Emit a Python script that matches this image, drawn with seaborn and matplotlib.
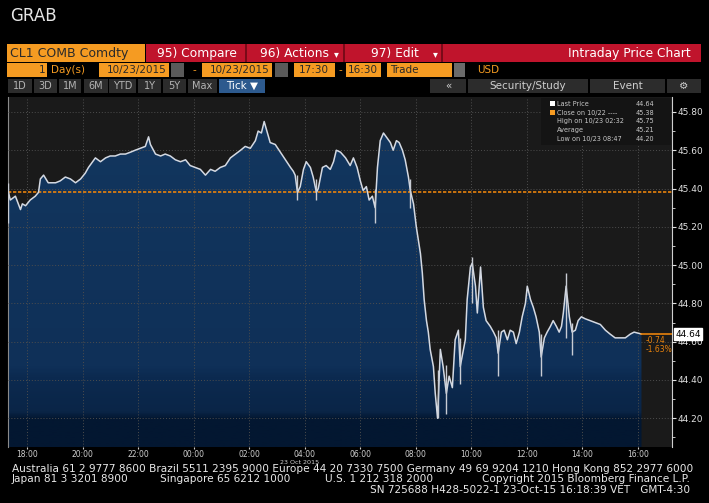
import numpy as np
import pandas as pd
import matplotlib
matplotlib.use("Agg")
import matplotlib.pyplot as plt
import matplotlib.dates as mdates
from matplotlib.patches import Rectangle
from matplotlib.colors import LinearSegmentedColormap
import seaborn as sns

sns.set_style("dark")
plt.rcParams["font.family"] = ["Liberation Sans Narrow", "DejaVu Sans"]

# intraday ticks, CL1 COMB Comdty, 22-23 Oct 2015
times = ["17:19", "17:23", "17:34", "17:45", "17:49", "17:56", "18:06", "18:17", "18:24", "18:28",
         "18:35", "18:45", "19:01", "19:11", "19:22", "19:33", "19:44", "19:55", "20:05", "20:12",
         "20:27", "20:38", "20:49", "20:59", "21:10", "21:21", "21:32", "21:43", "21:53", "22:04",
         "22:15", "22:22", "22:26", "22:37", "22:48", "22:58", "23:09", "23:20", "23:31", "23:42",
         "23:52", "00:03", "00:14", "00:25", "00:36", "00:46", "00:57", "01:08", "01:19", "01:30",
         "01:41", "01:51", "02:02", "02:13", "02:19", "02:26", "02:32", "02:38", "02:45", "02:56",
         "03:07", "03:18", "03:29", "03:35", "03:39", "03:44", "03:50", "03:57", "04:03", "04:12",
         "04:18", "04:25", "04:29", "04:38", "04:46", "04:55", "05:02", "05:08", "05:17", "05:28",
         "05:38", "05:45", "05:53", "06:00", "06:06", "06:13", "06:19", "06:26", "06:32", "06:37",
         "06:43", "06:50", "06:56", "07:05", "07:11", "07:18", "07:24", "07:31", "07:37", "07:44",
         "07:48", "07:55", "08:01", "08:10", "08:14", "08:18", "08:23", "08:27", "08:31", "08:38",
         "08:42", "08:47", "08:53", "08:59", "09:06", "09:12", "09:19", "09:25", "09:32", "09:36",
         "09:47", "09:51", "09:58", "10:02", "10:09", "10:13", "10:17", "10:20", "10:26", "10:32",
         "10:41", "10:48", "10:54", "10:58", "11:05", "11:11", "11:18", "11:24", "11:31", "11:37",
         "11:44", "11:50", "11:57", "12:01", "12:08", "12:14", "12:20", "12:27", "12:31", "12:38",
         "12:44", "12:51", "12:57", "13:04", "13:10", "13:15", "13:19", "13:25", "13:32", "13:38",
         "13:45", "13:51", "13:58", "14:06", "14:17", "14:28", "14:39", "14:50", "15:00", "15:11",
         "15:22", "15:33", "15:44", "15:52", "16:08"]
prices = [45.38, 45.34, 45.36, 45.29, 45.32, 45.31, 45.34, 45.36, 45.38, 45.45,
          45.47, 45.43, 45.43, 45.44, 45.46, 45.45, 45.43, 45.45, 45.48, 45.51,
          45.56, 45.54, 45.56, 45.57, 45.57, 45.58, 45.58, 45.59, 45.60, 45.61,
          45.62, 45.67, 45.63, 45.58, 45.57, 45.58, 45.57, 45.55, 45.54, 45.55,
          45.52, 45.51, 45.50, 45.47, 45.50, 45.49, 45.51, 45.52, 45.56, 45.58,
          45.60, 45.62, 45.61, 45.65, 45.70, 45.69, 45.75, 45.70, 45.64, 45.63,
          45.59, 45.55, 45.51, 45.49, 45.47, 45.38, 45.41, 45.50, 45.54, 45.51,
          45.46, 45.38, 45.40, 45.51, 45.52, 45.50, 45.54, 45.60, 45.59, 45.56,
          45.52, 45.56, 45.51, 45.44, 45.39, 45.41, 45.34, 45.36, 45.30, 45.51,
          45.65, 45.69, 45.67, 45.64, 45.60, 45.65, 45.64, 45.60, 45.55, 45.46,
          45.39, 45.32, 45.20, 45.06, 44.96, 44.82, 44.71, 44.65, 44.56, 44.47,
          44.33, 44.20, 44.56, 44.47, 44.33, 44.42, 44.36, 44.61, 44.66, 44.47,
          44.61, 44.82, 44.99, 45.01, 44.89, 44.75, 44.89, 44.99, 44.78, 44.71,
          44.68, 44.65, 44.62, 44.54, 44.65, 44.66, 44.61, 44.66, 44.65, 44.59,
          44.65, 44.73, 44.80, 44.89, 44.82, 44.78, 44.73, 44.65, 44.52, 44.62,
          44.65, 44.68, 44.71, 44.68, 44.65, 44.68, 44.75, 44.89, 44.73, 44.65,
          44.66, 44.71, 44.73, 44.72, 44.71, 44.70, 44.69, 44.66, 44.64, 44.62,
          44.62, 44.62, 44.64, 44.65, 44.64]

# a few visible high-low bars (wide tick ranges)
bar_times = ["17:19", "03:44", "04:25", "06:32", "07:48", "08:47", "09:06", "09:36", "10:02",
             "10:58", "12:31", "13:25", "13:38"]
bar_lows = [45.22, 45.34, 45.34, 45.22, 45.30, 44.20, 44.22, 44.38, 44.80,
            44.42, 44.42, 44.62, 44.53]
bar_highs = [45.43, 45.47, 45.45, 45.40, 45.45, 44.45, 44.48, 44.62, 45.04,
             44.66, 44.64, 44.96, 44.70]

prev_close = 45.38
last_price = 44.64
net_change = "-0.74"
pct_change = "-1.63%"
legend_rows = [("Last Price", "44.64"), ("Close on 10/22 ----", "45.38"),
               ("High on 10/23 02:32", "45.75"), ("Average", "45.21"),
               ("Low on 10/23 08:47", "44.20")]
y_ticks = [44.20, 44.40, 44.60, 44.80, 45.00, 45.20, 45.40, 45.60, 45.80]


def to_stamp(t):
    day = "2015-10-22 " if int(t[:2]) >= 17 else "2015-10-23 "
    return pd.Timestamp(day + t)


df = pd.DataFrame({"time": [to_stamp(t) for t in times], "price": prices})
bars = pd.DataFrame({"time": [to_stamp(t) for t in bar_times], "low": bar_lows, "high": bar_highs})

W, H = 709, 503
BG = "#000000"
ORANGE = "#f59b22"
RED = "#c0142c"


def fx(x):
    return x / W


def fy(y):
    return 1 - y / H


fig = plt.figure(figsize=(W / 100, H / 100), dpi=100, facecolor=BG)


def box(x, y, w, h, color, **kw):
    fig.patches.append(Rectangle((fx(x), fy(y + h)), w / W, h / H, transform=fig.transFigure,
                                 facecolor=color, edgecolor=kw.pop("ec", "none"), lw=0.6, **kw))


def txt(x, y, s, size=7, color="white", ha="left", **kw):
    fig.text(fx(x), fy(y), s, fontsize=size, color=color, ha=ha, va="center", **kw)


# header
txt(10, 16, "GRAB", size=12, color="#e6e6e6")

box(7, 44, 138, 18, ORANGE)
txt(10, 53, "CL1 COMB Comdty", size=9, color="#2a2a2a")
box(146, 44, 555, 18, RED)
for sx in [245, 343, 441]:
    box(sx, 44, 1.5, 18, "#7a0a18")
txt(157, 53, "95) Compare", size=8.8)
txt(260, 53, "96) Actions", size=8.8)
txt(334, 54, "▾", size=7)
txt(371, 53, "97) Edit", size=8.8)
txt(433, 54, "▾", size=7)
txt(691, 53, "Intraday Price Chart", size=8.8, ha="right")

box(7, 63, 40, 14, ORANGE)
txt(45, 70, "1", size=7.5, color="#2a2a2a", ha="right")
txt(51, 70, "Day(s)", size=7.5, color=ORANGE)
box(99, 63, 70, 14, ORANGE)
txt(167, 70, "10/23/2015", size=7.5, color="#2a2a2a", ha="right")
box(171, 63, 13, 14, "#5a5a5a")
txt(194, 70, "-", size=7.5, color=ORANGE, ha="center")
box(202, 63, 70, 14, ORANGE)
txt(270, 70, "10/23/2015", size=7.5, color="#2a2a2a", ha="right")
box(275, 63, 13, 14, "#5a5a5a")
box(294, 63, 41, 14, ORANGE)
txt(314, 70, "17:30", size=7.5, color="#2a2a2a", ha="center")
txt(340, 70, "-", size=7.5, color=ORANGE, ha="center")
box(346, 63, 35, 14, ORANGE)
txt(363, 70, "16:30", size=7.5, color="#2a2a2a", ha="center")
box(387, 63, 65, 14, ORANGE)
txt(390, 70, "Trade", size=7.5, color="#2a2a2a")
box(454, 63, 11, 14, "#6a6a6a")
txt(477, 70, "USD", size=7.5, color=ORANGE)

buttons = [("1D", 8, 24), ("3D", 34, 23), ("1M", 59, 22), ("6M", 84, 24), ("YTD", 109, 27),
           ("1Y", 138, 23), ("5Y", 163, 23), ("Max", 188, 29)]
for label, bx, bw in buttons:
    box(bx, 79, bw, 14, "#2c2c2c")
    txt(bx + bw / 2, 86, label, size=7, color="#b4b4b4", ha="center")
box(219, 79, 46, 14, "#2d5a8e")
txt(242, 86, "Tick ▼", size=7.5, ha="center")
for label, bx, bw in [("«", 430, 36), ("Security/Study", 468, 120), ("Event", 590, 75), ("⚙", 667, 34)]:
    box(bx, 79, bw, 14, "#2c2c2c")
    txt(bx + bw / 2, 86, label, size=7.5, color="#cfcfcf", ha="center")

# chart
ax = fig.add_axes([fx(8), fy(447), (672 - 8) / W, (447 - 97) / H])
ax.set_facecolor("#1a1a1a")
xmin = pd.Timestamp("2015-10-22 17:18")
xmax = pd.Timestamp("2015-10-23 17:14")
ymin, ymax = 44.05, 45.878
ax.set_xlim(xmin, xmax)
ax.set_ylim(ymin, ymax)

poly = ax.fill_between(df["time"], df["price"], ymin, color="none", lw=0)
cmap = LinearSegmentedColormap.from_list(
    "fill", [(0, "#031731"), (0.08, "#031731"), (0.1, "#0a2547"), (0.2, "#0c2a50"),
             (0.23, "#0f3058"), (1, "#13375f")])
xn = mdates.date2num([xmin, xmax])
grad = np.linspace(0, 1, 256).reshape(-1, 1)
im = ax.imshow(grad, cmap=cmap, origin="lower", aspect="auto",
               extent=[xn[0], xn[1], ymin, ymax], zorder=1)
im.set_clip_path(poly.get_paths()[0], transform=ax.transData)

sns.lineplot(data=df, x="time", y="price", ax=ax, color="#d4d9e2", lw=1.1, zorder=4)
ax.vlines(bars["time"], bars["low"], bars["high"], color="#c8ccd4", lw=1.0, zorder=4)
ax.axhline(prev_close, color="#e8820c", lw=1.2, ls=(0, (2, 1)), zorder=3)

ax.grid(True, color="#4d4d4d", ls=(0, (1, 2)), lw=0.7)
ax.set_axisbelow(False)

ax.yaxis.tick_right()
ax.set_yticks(y_ticks)
ax.set_yticks(np.arange(44.1, 45.9, 0.2), minor=True)
ax.yaxis.set_major_formatter(plt.FormatStrFormatter("%.2f"))
ax.tick_params(axis="y", which="major", colors="#e0e0e0", labelsize=6.5, length=3, width=0.8,
               direction="out", pad=1, right=True)
ax.tick_params(axis="y", which="minor", colors="#e0e0e0", length=2, width=0.6, right=True)
ax.xaxis.set_major_locator(mdates.HourLocator(byhour=range(0, 24, 2)))
ax.xaxis.set_major_formatter(mdates.DateFormatter("%H:%M"))
ax.tick_params(axis="x", colors="#cfcfcf", labelsize=5.5, length=1.5, pad=0.5, bottom=True)
ax.set_xlabel("")
ax.set_ylabel("")
for side in ["top", "bottom"]:
    ax.spines[side].set_visible(False)
ax.spines["right"].set_color("#cfcfcf")
ax.spines["left"].set_color("#8a8a8a")
for s in ["left", "right"]:
    ax.spines[s].set_linewidth(0.8)

# last price marker
last_t = df["time"].iloc[-1]
ax.plot([last_t, xmax], [last_price, last_price], color="#e8820c", lw=1.2, zorder=5)
ax.text(1.005, last_price, f"{last_price:.2f}", transform=ax.get_yaxis_transform(), fontsize=6.5,
        color="black", va="center", ha="left", zorder=6, clip_on=False,
        bbox=dict(boxstyle="square,pad=0.15", fc="white", ec="white"))
ax.text(last_t + pd.Timedelta(minutes=8), 44.605, net_change, fontsize=5.5, color="#e8820c",
        va="center", zorder=6)
ax.text(last_t + pd.Timedelta(minutes=8), 44.56, pct_change, fontsize=5.5, color="#e8820c",
        va="center", zorder=6)

# legend panel
box(541, 98, 130, 47, "#141414")
for i, (name, val) in enumerate(legend_rows):
    yy = 104 + i * 8.7
    if i == 0:
        box(550, yy - 3, 5, 5, "white")
    elif i == 1:
        box(550, yy - 3, 5, 5, ORANGE)
    txt(557, yy, name, size=4.7, color="#c8c8c8")
    txt(654, yy, val, size=4.7, color="#c8c8c8", ha="right")

txt(300, 462, "23 Oct 2015", size=4.6, color="#cfcfcf", ha="center")

# footer
foot = "#e8e8e8"
txt(12, 469, "Australia 61 2 9777 8600 Brazil 5511 2395 9000 Europe 44 20 7330 7500 "
    "Germany 49 69 9204 1210 Hong Kong 852 2977 6000", size=7.6, color=foot)
txt(12, 479, "Japan 81 3 3201 8900", size=7.6, color=foot)
txt(160, 479, "Singapore 65 6212 1000", size=7.6, color=foot)
txt(325, 479, "U.S. 1 212 318 2000", size=7.6, color=foot)
txt(690, 479, "Copyright 2015 Bloomberg Finance L.P.", size=7.6, color=foot, ha="right")
txt(690, 490, "SN 725688 H428-5022-1 23-Oct-15 16:18:39 VET   GMT-4:30", size=7.6, color=foot,
    ha="right")

fig.savefig("out.png", dpi=100, facecolor=BG)
